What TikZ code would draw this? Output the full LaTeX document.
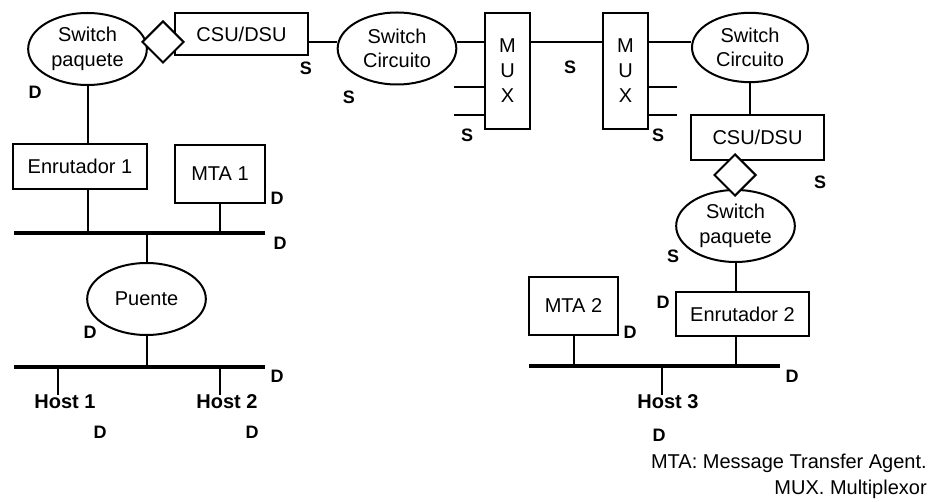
\documentclass[tikz,border=0pt]{standalone}
\usepackage{fontspec}
\setmainfont{Liberation Sans}
\usetikzlibrary{shapes.geometric}
\begin{document}
\begin{tikzpicture}[x=0.75pt,y=-0.75pt,
  txt/.style={font=\fontsize{15}{18.5}\selectfont},
  ell/.style={draw,line width=1.5pt,ellipse,minimum width=89pt,minimum height=54pt,inner sep=0pt,align=center,txt},
  box/.style={draw,line width=1.5pt,rectangle,inner sep=0pt,align=center,txt},
  dia/.style={draw,line width=1.5pt,diamond,fill=white,minimum size=31.5pt,inner sep=0pt},
  lnk/.style={line width=1.5pt},
  bus/.style={line width=3pt},
  lab/.style={font=\bfseries\fontsize{13.5}{16}\selectfont,inner sep=0pt},
  hst/.style={font=\bfseries\fontsize{15}{18}\selectfont,inner sep=0pt},
  leg/.style={font=\fontsize{15}{18}\selectfont,inner sep=0pt,anchor=east}]
\useasboundingbox (0,0) rectangle (933,502);

% nodes
\node[ell] (sp1) at (87.5,49) {Switch\\paquete};
\node[box,minimum width=99.75pt,minimum height=31.5pt] (csu1) at (241.5,34) {CSU/DSU};
\node[ell] (sc1) at (397,48.5) {Switch\\Circuito};
\node[box,minimum width=33.75pt,minimum height=87pt,font=\fontsize{15}{18.75}\selectfont] (mux1) at (507.5,71) {M\\U\\X};
\node[box,minimum width=33.75pt,minimum height=87pt,font=\fontsize{15}{18.75}\selectfont] (mux2) at (625.5,71) {M\\U\\X};
\node[ell,minimum width=87pt,minimum height=52pt] (sc2) at (750,47.5) {Switch\\Circuito};
\node[box,minimum width=99.75pt,minimum height=33.75pt] (csu2) at (757.5,137.5) {CSU/DSU};
\node[ell] (sp2) at (735.5,226) {Switch\\paquete};
\node[box,minimum width=99.75pt,minimum height=33pt] (enr2) at (742.5,314) {Enrutador 2};
\node[box,minimum width=66.75pt,minimum height=43.5pt] (mta2) at (573.5,306) {MTA 2};
\node[box,minimum width=100.5pt,minimum height=33.75pt] (enr1) at (80,166.5) {Enrutador 1};
\node[box,minimum width=67.5pt,minimum height=43.5pt] (mta1) at (220,174) {MTA 1};
\node[ell] (pte) at (146.5,299) {Puente};

% bus coordinates
\coordinate (b1l) at (14,233);
\coordinate (b1r) at (265,233);
\coordinate (b2l) at (14,367);
\coordinate (b2r) at (265,367);
\coordinate (b3l) at (529,366);
\coordinate (b3r) at (780,366);
\coordinate (h1) at (58,395);
\coordinate (h2) at (220,395);
\coordinate (h3) at (662,395);
\coordinate (m1a) at (454,87);
\coordinate (m1b) at (454,115);
\coordinate (m2a) at (677,87);
\coordinate (m2b) at (677,115);

% top chain
\draw[lnk] (csu1.east |- 0,42) -- (sc1.west |- 0,42);
\draw[lnk] (sc1.east |- 0,42) -- (mux1.west |- 0,42);
\draw[lnk] (mux1.east |- 0,42) -- (mux2.west |- 0,42);
\draw[lnk] (mux2.east |- 0,42) -- (sc2.west |- 0,42);
\draw[lnk] (m1a) -- (m1a -| mux1.west);
\draw[lnk] (m1b) -- (m1b -| mux1.west);
\draw[lnk] (m2a) -- (m2a -| mux2.east);
\draw[lnk] (m2b) -- (m2b -| mux2.east);
\draw[lnk] (sc2.south) -- (sc2.south |- csu2.north);

% left side
\draw[lnk] (sp1.south) -- (sp1.south |- enr1.north);
\draw[lnk] (sp1.south |- enr1.south) -- (sp1.south |- b1l);
\draw[lnk] (mta1.south) -- (mta1.south |- b1l);
\draw[bus] (b1l) -- (b1r);
\draw[lnk] (pte.north |- b1l) -- (pte.north);
\draw[lnk] (pte.south) -- (pte.south |- b2l);
\draw[bus] (b2l) -- (b2r);
\draw[lnk] (h1 |- b2l) -- (h1);
\draw[lnk] (h2 |- b2l) -- (h2);

% right side
\draw[lnk] (sp2.south) -- (sp2.south |- enr2.north);
\draw[lnk] (sp2.south |- enr2.south) -- (sp2.south |- b3l);
\draw[lnk] (mta2.south) -- (mta2.south |- b3l);
\draw[bus] (b3l) -- (b3r);
\draw[lnk] (h3 |- b3l) -- (h3);

% diamonds
\node[dia] (d1) at (163,42) {};
\node[dia] (d2) at (735,175) {};

% labels
\node[lab] at (35,92) {D};
\node[lab] at (306,68) {S};
\node[lab] at (349,97) {S};
\node[lab] at (570,67) {S};
\node[lab] at (467,135) {S};
\node[lab] at (658,135) {S};
\node[lab] at (820,182) {S};
\node[lab] at (673,256) {S};
\node[lab] at (663,302) {D};
\node[lab] at (630,332) {D};
\node[lab] at (792,376) {D};
\node[lab] at (659,435) {D};
\node[lab] at (277,198) {D};
\node[lab] at (280,243) {D};
\node[lab] at (90,332) {D};
\node[lab] at (277,376) {D};
\node[lab] at (100,432) {D};
\node[lab] at (252,432) {D};
\node[hst] (host1) at (65,402) {Host 1};
\node[hst] (host2) at (227,402) {Host 2};
\node[hst] (host3) at (668,402) {Host 3};
\node[leg] (leg1) at (927,463) {MTA: Message Transfer Agent.};
\node[leg] (leg2) at (927,489) {MUX. Multiplexor};
\end{tikzpicture}
\end{document}
